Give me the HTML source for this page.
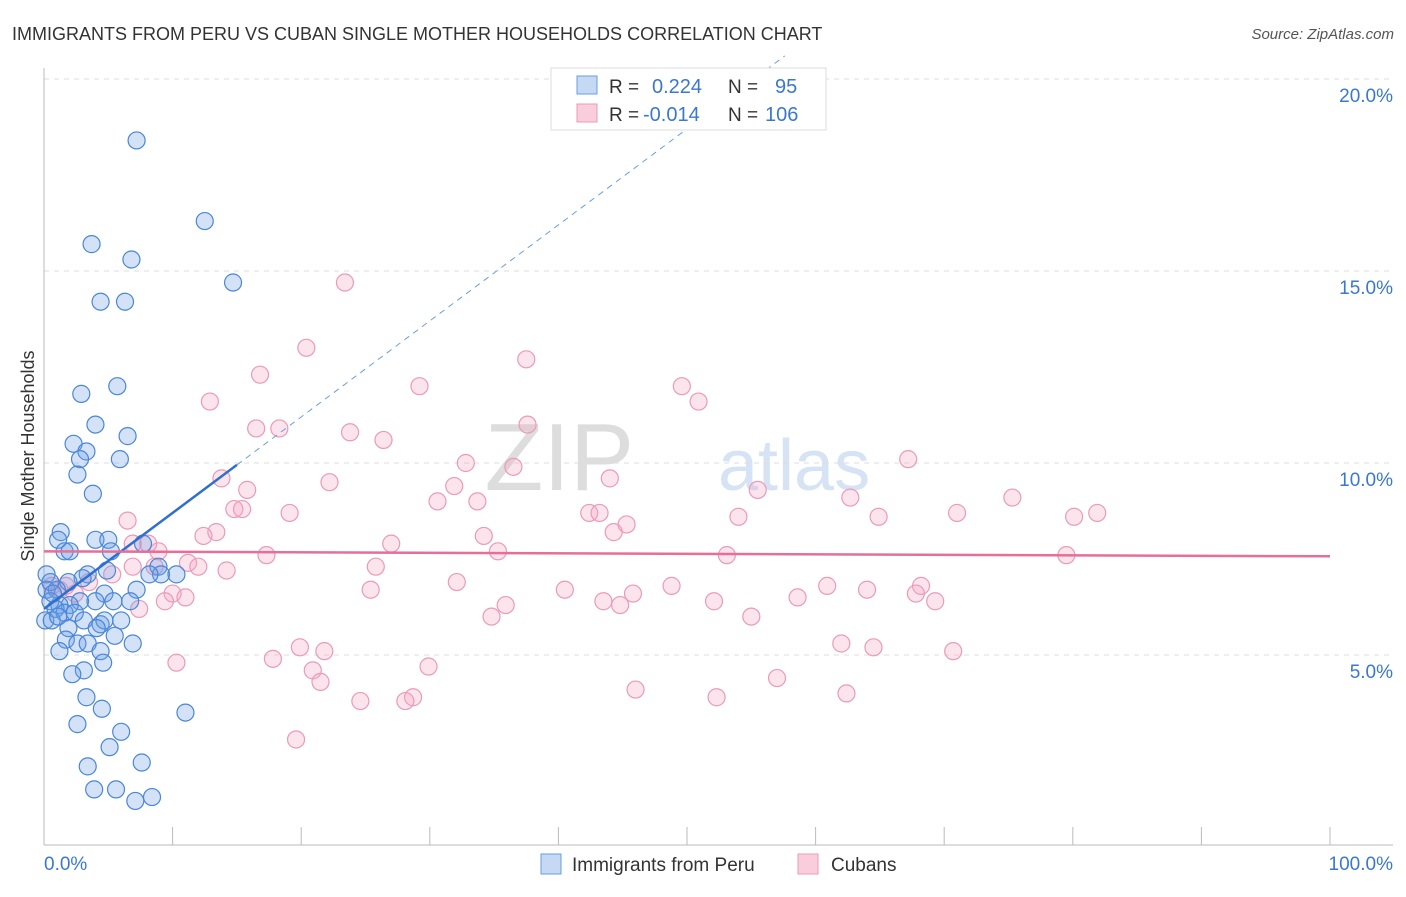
<!DOCTYPE html>
<html><head><meta charset="utf-8"><style>
body{margin:0;background:#fff;font-family:"Liberation Sans",sans-serif;}
svg text{font-family:"Liberation Sans",sans-serif;}
</style></head><body>
<svg width="1406" height="892" xmlns="http://www.w3.org/2000/svg">
<text x="12" y="40" font-size="18" fill="#333">IMMIGRANTS FROM PERU VS CUBAN SINGLE MOTHER HOUSEHOLDS CORRELATION CHART</text>
<text x="1394" y="39" font-size="15" fill="#555" font-style="italic" text-anchor="end">Source: ZipAtlas.com</text>
<text x="634" y="490" font-size="96" fill="#ddd" font-family="Liberation Serif" text-anchor="end">ZIP</text>
<text x="718" y="490" font-size="72" fill="#d6e3f5">atlas</text>
<g id="grid"></g>
<g id="axes"></g>
<g id="pts"></g>
<g id="lines"></g>
<text x="34" y="456" font-size="18" fill="#333" text-anchor="middle" transform="rotate(-90 34 456)">Single Mother Households</text>
<g>
<rect x="551" y="68" width="275" height="62" fill="#fff" stroke="#ddd"/>
<rect x="577" y="76" width="20" height="18" fill="#c5d9f5" stroke="#6a9ee0"/>
<rect x="577" y="104" width="20" height="18" fill="#f9cddc" stroke="#ec9ab7"/>
<text x="609" y="93" font-size="19" fill="#333">R =</text><text x="652" y="93" font-size="20" fill="#3a78d0">0.224</text>
<text x="728" y="93" font-size="19" fill="#333">N =</text><text x="775" y="93" font-size="20" fill="#3a78d0">95</text>
<text x="609" y="121" font-size="19" fill="#333">R =</text><text x="643" y="121" font-size="20" fill="#3a78d0">-0.014</text>
<text x="728" y="121" font-size="19" fill="#333">N =</text><text x="765" y="121" font-size="20" fill="#3a78d0">106</text>
</g>
<g>
<rect x="541" y="854" width="20" height="20" fill="#c5d9f5" stroke="#6a9ee0"/>
<text x="572" y="871" font-size="19" fill="#333">Immigrants from Peru</text>
<rect x="798" y="854" width="20" height="20" fill="#f9cddc" stroke="#ec9ab7"/>
<text x="831" y="871" font-size="19" fill="#333">Cubans</text>
</g>
</svg>
<script>
const xTicks=[0,10,20,30,40,50,60,70,80,90,100];
const yTicks=[5,10,15,20];
const yTickLabels=["5.0%","10.0%","15.0%","20.0%"];
const peruX=[7.2,12.5,3.7,6.8,14.7,4.4,6.3,2.9,5.7,4.0,6.5,2.3,3.3,2.8,5.9,2.6,3.8,1.3,1.1,4.0,5.0,7.7,5.2,1.6,2.0,8.9,9.1,10.3,3.4,3.0,4.9,1.9,0.2,0.2,1.0,4.7,7.2,6.7,5.4,4.0,2.8,2.0,1.2,0.5,0.9,1.6,2.4,0.1,0.6,1.1,3.1,4.4,4.7,6.0,4.1,1.9,1.7,5.5,6.9,2.6,3.4,1.2,4.4,4.6,3.1,2.2,3.3,4.5,11.0,2.6,6.0,5.1,7.6,3.4,3.9,5.6,8.4,7.1,0.5,8.2,0.7];
const peruY=[18.4,16.3,15.7,15.3,14.7,14.2,14.2,11.8,12.0,11.0,10.7,10.5,10.3,10.1,10.1,9.7,9.2,8.2,8.0,8.0,8.0,7.9,7.7,7.7,7.7,7.3,7.1,7.1,7.1,7.0,7.2,6.9,7.1,6.7,6.7,6.6,6.7,6.4,6.4,6.4,6.4,6.3,6.3,6.4,6.2,6.1,6.1,5.9,5.9,6.0,5.9,5.8,5.9,5.9,5.7,5.7,5.4,5.5,5.3,5.3,5.3,5.1,5.1,4.8,4.6,4.5,3.9,3.6,3.5,3.2,3.0,2.6,2.2,2.1,1.5,1.5,1.3,1.2,6.9,7.1,6.6];
const cubaX=[23.4,20.4,37.5,16.8,29.2,49.6,50.9,12.9,16.5,18.3,23.8,26.4,37.6,32.8,36.5,67.2,13.8,44.0,22.2,31.9,15.8,55.5,75.3,30.6,33.7,62.7,14.8,15.4,19.1,42.4,43.2,54.0,64.9,71.0,81.9,80.1,45.3,6.5,44.3,13.4,12.4,34.2,27.0,35.3,17.3,53.1,79.5,8.9,8.1,6.9,11.2,12.0,8.6,25.8,14.2,5.3,6.9,32.1,60.9,48.8,68.2,40.5,45.8,64.0,25.4,10.0,11.0,58.6,67.8,69.3,43.5,44.8,52.1,35.9,9.4,7.4,34.8,55.0,62.0,64.5,70.7,19.9,21.8,17.8,10.3,29.9,20.9,21.5,57.0,46.0,52.3,62.4,28.7,28.1,24.6,19.6,1.2,2.4,1.7,0.6,3.5];
const cubaY=[14.7,13.0,12.7,12.3,12.0,12.0,11.6,11.6,10.9,10.9,10.8,10.6,11.0,10.0,9.9,10.1,9.6,9.6,9.5,9.4,9.3,9.3,9.1,9.0,9.0,9.1,8.8,8.8,8.7,8.7,8.7,8.6,8.6,8.7,8.7,8.6,8.4,8.5,8.2,8.2,8.1,8.1,7.9,7.7,7.6,7.6,7.6,7.7,7.9,7.9,7.4,7.3,7.3,7.3,7.2,7.1,7.3,6.9,6.8,6.8,6.8,6.7,6.6,6.7,6.7,6.6,6.5,6.5,6.6,6.4,6.4,6.3,6.4,6.3,6.4,6.2,6.0,6.0,5.3,5.2,5.1,5.2,5.1,4.9,4.8,4.7,4.6,4.3,4.4,4.1,3.9,4.0,3.9,3.8,3.8,2.8,6.7,6.6,6.8,6.8,6.9];
const peruTrend=[6.2,0.25];   // intercept, slope
const cubaTrend=[7.7,-0.0013];
const NS="http://www.w3.org/2000/svg";
const X0=44,X1=1330,YB=847,YPX=38.4;
const sx=v=>X0+v*(X1-X0)/100;
const sy=v=>YB-v*YPX;
function mk(tag,attrs,parent){const e=document.createElementNS(NS,tag);for(const k in attrs)e.setAttribute(k,attrs[k]);parent.appendChild(e);return e;}
const grid=document.getElementById('grid'),axes=document.getElementById('axes'),pts=document.getElementById('pts'),lines=document.getElementById('lines');
yTicks.forEach((t,i)=>{
 const l=mk('line',{x1:44,x2:1393,y1:sy(t),y2:sy(t),stroke:'#ddd','stroke-dasharray':'5,5'},grid);
 
 
 const tx=mk('text',{x:1393,y:sy(t)+23,'font-size':19,fill:'#3a78d0','text-anchor':'end'},axes);
 tx.textContent=yTickLabels[i];
 
 
});
const g2=mk('line',{x1:44,x2:1393,y1:845,y2:845,stroke:'#bbb'},axes);


const ya=mk('line',{x1:44,x2:44,y1:68,y2:845,stroke:'#bbb'},axes);


xTicks.forEach(t=>{
 const l=mk('line',{x1:sx(t),x2:sx(t),y1:827,y2:845,stroke:'#bbb'},axes);
 
 
});
const xl0=mk('text',{x:44,y:870,'font-size':19,fill:'#3a78d0'},axes);xl0.textContent=xTicks[0].toFixed(1)+'%';


const xl1=mk('text',{x:1393,y:870,'font-size':19,fill:'#3a78d0','text-anchor':'end'},axes);xl1.textContent=xTicks[xTicks.length-1].toFixed(1)+'%';


cubaX.forEach((x,i)=>{
 const c=mk('circle',{cx:sx(x),cy:sy(cubaY[i]),r:8.5,fill:'rgba(244,165,195,0.3)',stroke:'#eb9ab8','stroke-width':1.2},pts);
 
 
});
peruX.forEach((x,i)=>{
 const c=mk('circle',{cx:sx(x),cy:sy(peruY[i]),r:8.5,fill:'rgba(110,160,230,0.3)',stroke:'#4a86d8','stroke-width':1.2},pts);
 
 
});
const pf=v=>peruTrend[0]+peruTrend[1]*v;
const xEnd=(20.6-peruTrend[0])/peruTrend[1];
const pd=mk('line',{x1:sx(15),y1:sy(pf(15)),x2:sx(xEnd),y2:sy(pf(xEnd)),stroke:'#6a9ee0','stroke-dasharray':'6,5','stroke-width':1},lines);


const ps=mk('line',{x1:sx(0),y1:sy(pf(0)),x2:sx(15),y2:sy(pf(15)),stroke:'#2f6fd0','stroke-width':2.5},lines);


const cf=v=>cubaTrend[0]+cubaTrend[1]*v;
const cs=mk('line',{x1:sx(0),y1:sy(cf(0)),x2:sx(100),y2:sy(cf(100)),stroke:'#e66e98','stroke-width':2.5},lines);


</script>
</body></html>
